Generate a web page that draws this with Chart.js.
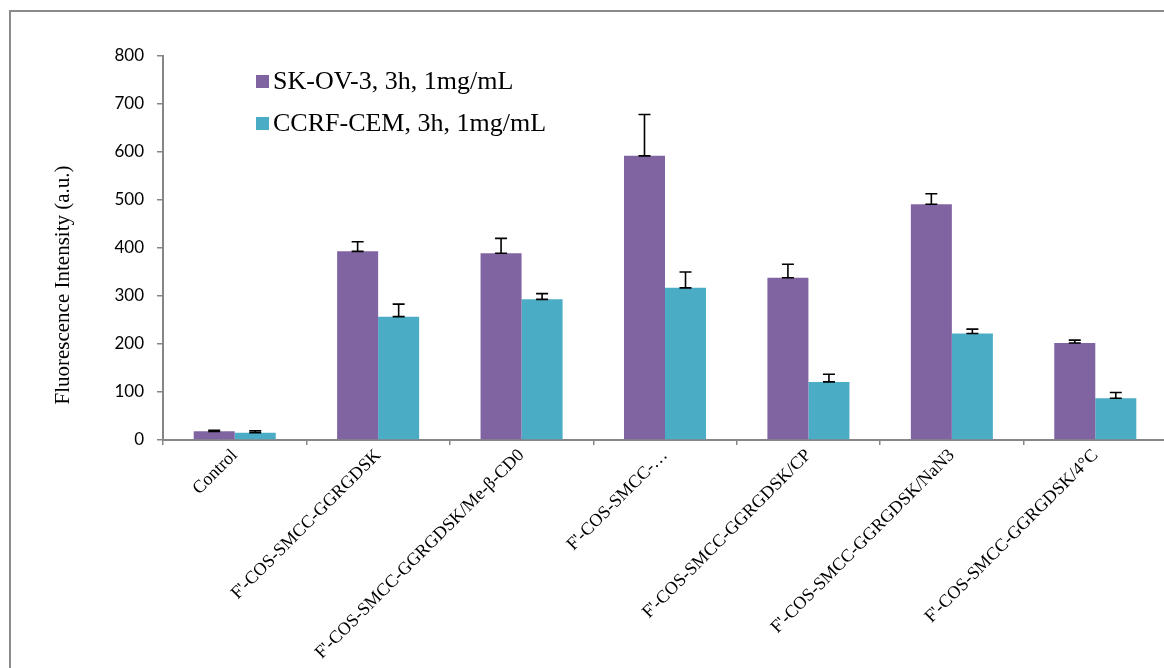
<!DOCTYPE html>
<html>
<head>
<meta charset="utf-8">
<script src="https://cdn.jsdelivr.net/npm/chart.js@4.4.1/dist/chart.umd.min.js"></script>
<style>
    html, body { margin: 0; padding: 0; background: #fff; overflow: hidden; }
    #wrap { position: relative; width: 1164px; height: 668px; overflow: hidden; }
    #frame { position: absolute; left: 9px; top: 10px; width: 1300px; height: 800px; border: 2px solid #8a8a8a; }
    #chart { position: absolute; left: 0; top: 0; }
</style>
</head>
<body>
<div id="wrap">
    <div id="frame"></div>
    <canvas id="chart" width="1180" height="668"></canvas>
</div>
<script>
const categories = [
    'Control',
    "F'-COS-SMCC-GGRGDSK",
    "F'-COS-SMCC-GGRGDSK/Me-\u03b2-CD0",
    "F'-COS-SMCC-\u2026",
    "F'-COS-SMCC-GGRGDSK/CP",
    "F'-COS-SMCC-GGRGDSK/NaN3",
    "F'-COS-SMCC-GGRGDSK/4\u00b0C"
];
const seriesNames = ['SK-OV-3, 3h, 1mg/mL', 'CCRF-CEM, 3h, 1mg/mL'];
const skValues = [18, 393, 389, 592, 338, 491, 202];
const skErrors = [2, 20, 31, 86, 28, 22, 6];
const ccrfValues = [15, 257, 293, 317, 121, 222, 87];
const ccrfErrors = [4, 26, 12, 33, 16, 9, 12];
const yTicks = [0, 100, 200, 300, 400, 500, 600, 700, 800];
const yTitle = 'Fluorescence Intensity (a.u.)';

const colors = ['#8064a2', '#4bacc6'];
const axisColor = '#868686';
const serif = '"Liberation Serif", "Times New Roman", serif';

// one-sided (upper) error bars, drawn from each bar top
const errorBars = {
    id: 'errorBars',
    afterDatasetsDraw(chart) {
        const ctx = chart.ctx;
        const y = chart.scales.y;
        ctx.save();
        ctx.strokeStyle = '#000';
        ctx.lineWidth = 1.6;
        chart.data.datasets.forEach((ds, i) => {
            const meta = chart.getDatasetMeta(i);
            meta.data.forEach((bar, j) => {
                const top = y.getPixelForValue(ds.data[j]);
                const hi = y.getPixelForValue(ds.data[j] + ds.errors[j]);
                const cap = 6;
                ctx.beginPath();
                ctx.moveTo(bar.x, top);
                ctx.lineTo(bar.x, hi);
                ctx.moveTo(bar.x - cap, hi);
                ctx.lineTo(bar.x + cap, hi);
                ctx.moveTo(bar.x - cap, top);
                ctx.lineTo(bar.x + cap, top);
                ctx.stroke();
            });
        });
        ctx.restore();
    }
};

// legend inside the plot (top left) and the y title, which sits below the middle
const annotations = {
    id: 'annotations',
    afterDraw(chart) {
        const ctx = chart.ctx;
        const area = chart.chartArea;
        ctx.save();
        ctx.font = '26px ' + serif;
        ctx.textBaseline = 'middle';
        ctx.textAlign = 'left';
        chart.data.datasets.forEach((ds, i) => {
            const x = area.left + 93;
            const y = area.top + 25 + i * 42;
            ctx.fillStyle = ds.backgroundColor;
            ctx.fillRect(x, y - 6, 13, 13);
            ctx.fillStyle = '#000';
            ctx.fillText(ds.label, x + 17, y + 1);
        });

        ctx.translate(63, 285);
        ctx.rotate(-Math.PI / 2);
        ctx.font = '21px ' + serif;
        ctx.textAlign = 'center';
        ctx.fillText(yTitle, 0, 0);
        ctx.restore();
    }
};

new Chart(document.getElementById('chart'), {
    type: 'bar',
    data: {
        labels: categories,
        datasets: [
            { label: seriesNames[0], data: skValues, errors: skErrors, backgroundColor: colors[0] },
            { label: seriesNames[1], data: ccrfValues, errors: ccrfErrors, backgroundColor: colors[1] }
        ]
    },
    options: {
        responsive: false,
        animation: false,
        events: [],
        layout: { padding: { top: 56, right: 13, left: 0, bottom: 0 } },
        datasets: {
            bar: { categoryPercentage: 0.572, barPercentage: 1.0, borderWidth: 0 }
        },
        plugins: {
            legend: { display: false },
            tooltip: { enabled: false }
        },
        scales: {
            x: {
                afterFit(scale) { scale.height = 228; },
                grid: {
                    drawOnChartArea: false,
                    color: axisColor,
                    tickLength: 5,
                    lineWidth: 1.5
                },
                border: { color: axisColor, width: 2 },
                ticks: {
                    autoSkip: false,
                    minRotation: 45,
                    maxRotation: 45,
                    padding: 0,
                    color: '#000',
                    font: { family: serif, size: 18 }
                }
            },
            y: {
                min: 0,
                max: 800,
                afterFit(scale) { scale.width = 163; },
                afterBuildTicks(scale) { scale.ticks = yTicks.map(v => ({ value: v })); },
                grid: {
                    drawOnChartArea: false,
                    color: axisColor,
                    tickLength: 6,
                    lineWidth: 1.5
                },
                border: { color: axisColor, width: 2 },
                ticks: {
                    padding: 13,
                    color: '#000',
                    font: { family: 'Lato, "Liberation Sans", sans-serif', size: 17 }
                }
            }
        }
    },
    plugins: [errorBars, annotations]
});
</script>
</body>
</html>
